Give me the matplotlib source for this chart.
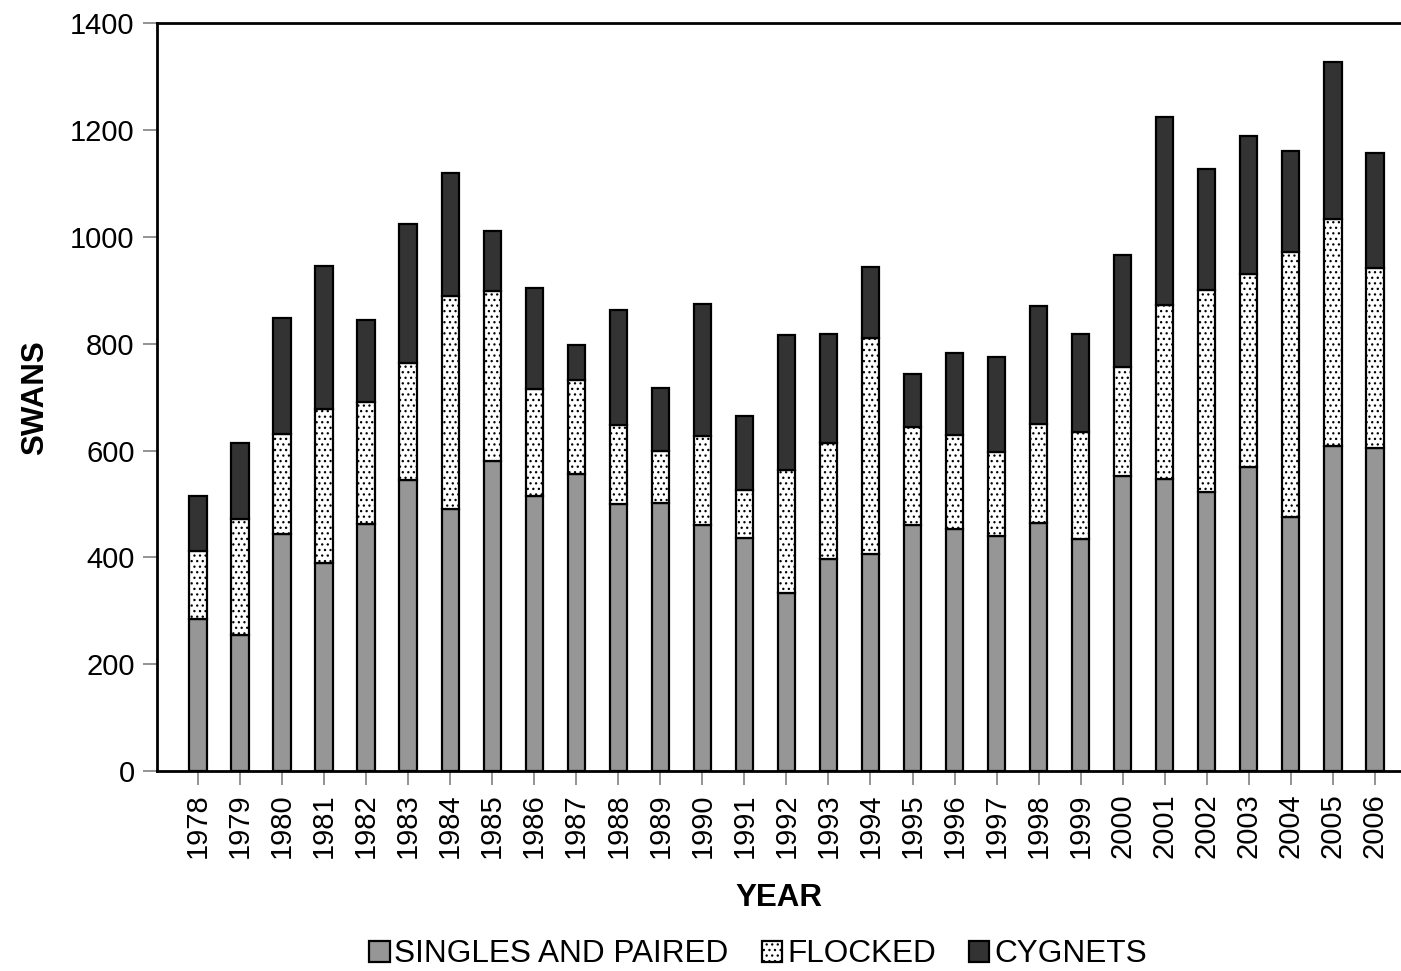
import matplotlib
matplotlib.use("Agg")
from matplotlib import pyplot as plt

plt.rcParams['font.family'] = ['Liberation Sans', 'DejaVu Sans']
plt.rcParams['hatch.linewidth'] = 0.9
plt.rcParams['hatch.color'] = '#333333'

years = [str(y) for y in range(1978, 2007)]
# stack tops
singles = [284, 254, 444, 390, 463, 544, 490, 580, 515, 557, 500, 502, 460, 436, 333,
           397, 407, 460, 454, 440, 465, 435, 553, 547, 522, 569, 475, 609, 604]
flocked_top = [411, 472, 631, 678, 690, 764, 890, 898, 715, 733, 647, 599, 628, 527, 564,
               615, 811, 644, 630, 598, 650, 635, 756, 872, 900, 930, 972, 1033, 942]
total = [514, 615, 848, 945, 844, 1025, 1120, 1011, 905, 797, 864, 717, 875, 664, 816,
         818, 943, 743, 783, 775, 870, 818, 966, 1225, 1128, 1189, 1161, 1328, 1158]

flocked = [f - s for f, s in zip(flocked_top, singles)]
cygnets = [t - f for t, f in zip(total, flocked_top)]

fig = plt.figure(figsize=(14.01, 9.71), dpi=100)
ax = fig.add_axes([0.112, 0.206, 0.888, 0.770])

x = list(range(len(years)))
w = 0.41
ax.bar(x, singles, w, color='#969696', edgecolor='black', linewidth=1.6, label='SINGLES AND PAIRED')
ax.bar(x, flocked, w, bottom=singles, color='white', edgecolor='black', linewidth=1.6,
       hatch='...', label='FLOCKED')
ax.bar(x, cygnets, w, bottom=flocked_top, color='#333333', edgecolor='black', linewidth=1.6,
       label='CYGNETS')

ax.set_xlim(-0.975, 28.62)
ax.set_ylim(0, 1400)
ax.set_yticks(range(0, 1401, 200))
ax.set_xticks(x)
ax.set_xticklabels(years, rotation=90)
ax.tick_params(axis='both', labelsize=21, color='#808080', length=10, width=1.2)
ax.tick_params(axis='x', pad=6)
ax.tick_params(axis='y', pad=6)

for s in ['left', 'top', 'bottom']:
    ax.spines[s].set_linewidth(2)
ax.spines['right'].set_visible(False)

ax.set_ylabel('SWANS', fontsize=22.5, fontweight='bold', labelpad=14)
ax.set_xlabel('YEAR', fontsize=22.5, fontweight='bold', labelpad=18)

fig.legend(loc='center', bbox_to_anchor=(0.541, 0.017), ncol=3, frameon=False,
           fontsize=22.7, handlelength=0.65, handleheight=0.65, handletextpad=0.15,
           columnspacing=1.05)

fig.savefig('out.png', dpi=100)
